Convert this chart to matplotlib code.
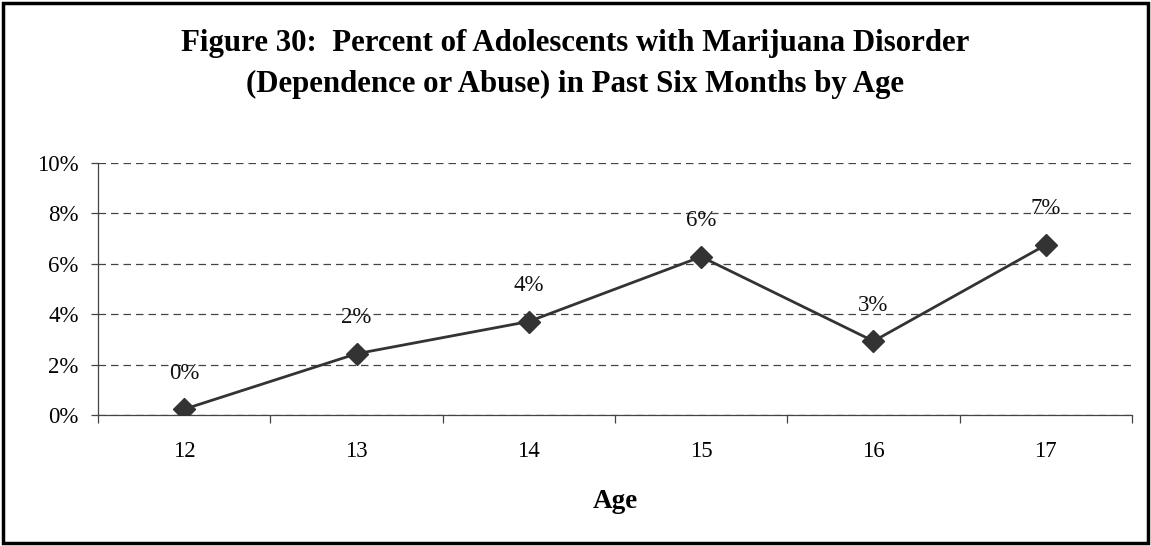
import matplotlib
matplotlib.use('Agg')
import matplotlib.pyplot as plt
from matplotlib.patches import Rectangle
from matplotlib.ticker import FixedLocator, PercentFormatter

ages = ['12', '13', '14', '15', '16', '17']
percent = [0.23, 2.43, 3.71, 6.28, 2.93, 6.75]
y_ticks = [0, 2, 4, 6, 8, 10]

title = ('Figure 30:  Percent of Adolescents with Marijuana Disorder\n'
         '(Dependence or Abuse) in Past Six Months by Age')

plt.rcParams['font.family'] = ['Liberation Serif', 'DejaVu Serif']

W, H = 1151, 546
fig = plt.figure(figsize=(W / 100, H / 100), dpi=100)
ax = fig.add_axes([98 / W, 1 - 415 / H, (1132 - 98) / W, (415 - 163) / H])

x = list(range(len(ages)))
ax.plot(x, percent, color='#333333', lw=2.0, marker='D', ms=11.5,
        mfc='#333333', mec='#333333', zorder=3)

for xi, v in zip(x, percent):
    ax.annotate(f'{v:.0f}%', (xi, v), xytext=(0, 26), textcoords='offset points',
                ha='center', va='center', fontsize=16.5, color='#111111')

ax.set_xlim(-0.5, len(ages) - 0.5)
ax.set_ylim(0, 10)
ax.set_yticks(y_ticks)
ax.yaxis.set_major_formatter(PercentFormatter(decimals=0))
ax.set_xticks(x)
ax.set_xticklabels(ages)
ax.xaxis.set_minor_locator(FixedLocator([i - 0.5 for i in range(len(ages) + 1)]))

ax.tick_params(axis='x', which='major', length=0, pad=18.5, labelsize=16.5)
ax.tick_params(axis='x', which='minor', length=6, width=0.9, color='#444444',
               direction='out')
ax.tick_params(axis='y', length=5, width=0.9, color='#444444', pad=9,
               labelsize=16.5)

ax.grid(axis='y', which='major', ls=(0, (6, 4)), color='#444444', lw=0.9)
ax.set_axisbelow(True)
for side in ('top', 'right'):
    ax.spines[side].set_visible(False)
for side in ('left', 'bottom'):
    ax.spines[side].set_color('#444444')
    ax.spines[side].set_linewidth(0.9)

ax.set_xlabel('Age', fontsize=19.5, fontweight='bold', va='center')
ax.xaxis.set_label_coords(0.5, (415 - 502) / (415 - 163))

fig.text(0.5, 1 - 64 / H, title, ha='center', va='center', fontsize=22.2,
         fontweight='bold', linespacing=1.52)

# outer frame around the whole chart
fig.patches.append(Rectangle((3 / W, 3 / H), 1 - 6 / W, 1 - 6 / H,
                             transform=fig.transFigure, fill=False,
                             ec='black', lw=2.5))

fig.savefig('out.png', dpi=100)
